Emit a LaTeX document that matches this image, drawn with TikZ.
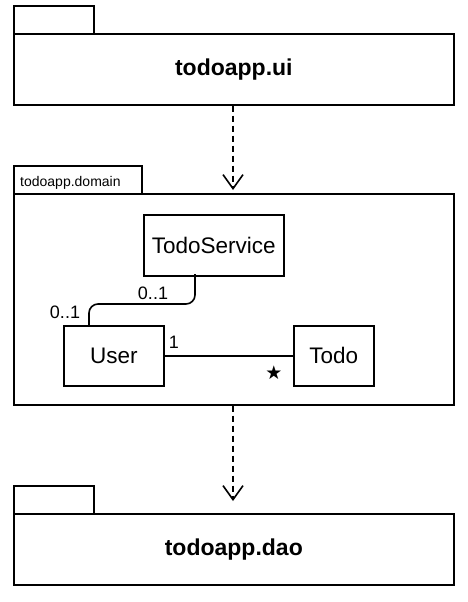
\documentclass[tikz,border=0pt]{standalone}
\usepackage{fontspec}
\setmainfont{Liberation Sans}
\newfontfamily\symfont{DejaVu Sans}
\usetikzlibrary{arrows.meta}
\begin{document}
\begin{tikzpicture}[x=1pt,y=-1pt,
  ln/.style={line width=1.6pt},
  box/.style={draw,ln,rectangle,inner sep=0pt,anchor=north west},
  pkgname/.style={font=\fontsize{23}{27}\selectfont\bfseries},
  cls/.style={box,font=\fontsize{22.5}{27}\selectfont},
  mult/.style={font=\fontsize{18}{21}\selectfont,inner sep=0pt},
  dep/.style={ln,dash pattern=on 6pt off 4pt,-{Straight Barb[length=14pt,width=20pt,line width=1.6pt]}}
]
\useasboundingbox (0,0) rectangle (468,602);
% todoapp.ui
\node[box,minimum width=80pt,minimum height=28pt] (uitab) at (13,5) {};
\node[box,minimum width=440pt,minimum height=71pt,pkgname] (ui) at (13,33) {todoapp.ui};
% todoapp.domain
\node[box,minimum width=128pt,minimum height=28pt] (domtab) at (13,165) {};
\node[font=\fontsize{14}{16}\selectfont,anchor=west,inner sep=0pt] (domlabel) at (20,183) {todoapp.domain};
\node[box,minimum width=440pt,minimum height=211pt] (dom) at (13,193) {};
\node[cls,minimum width=140pt,minimum height=61pt] (svc) at (143,214) {TodoService};
\node[cls,minimum width=100pt,minimum height=60pt] (user) at (63,325) {User};
\node[cls,minimum width=80pt,minimum height=60pt] (todo) at (293,325) {Todo};
% associations
\draw[ln] (user.east) -- (todo.west);
\node[mult] (m1) at (174,342) {1};
\node[font=\fontsize{19}{21}\selectfont\symfont,inner sep=0pt] (mstar) at (274,373) {★};
\coordinate (svcb) at (195,274);
\coordinate (usert) at (89,325);
\draw[ln,rounded corners=9pt] (svcb) -- (195,304) -- (89,304) -- (usert);
\node[mult] (m2) at (153,293) {0..1};
\node[mult] (m3) at (65,312) {0..1};
% todoapp.dao
\node[box,minimum width=80pt,minimum height=28pt] (daotab) at (13,485) {};
\node[box,minimum width=440pt,minimum height=71pt,pkgname] (dao) at (13,513) {todoapp.dao};
% dependencies
\coordinate (a1) at (233,190);
\coordinate (a2) at (233,501);
\draw[dep] (ui.south -| a1) -- (a1);
\draw[dep] (dom.south -| a2) -- (a2);
\end{tikzpicture}
\end{document}
